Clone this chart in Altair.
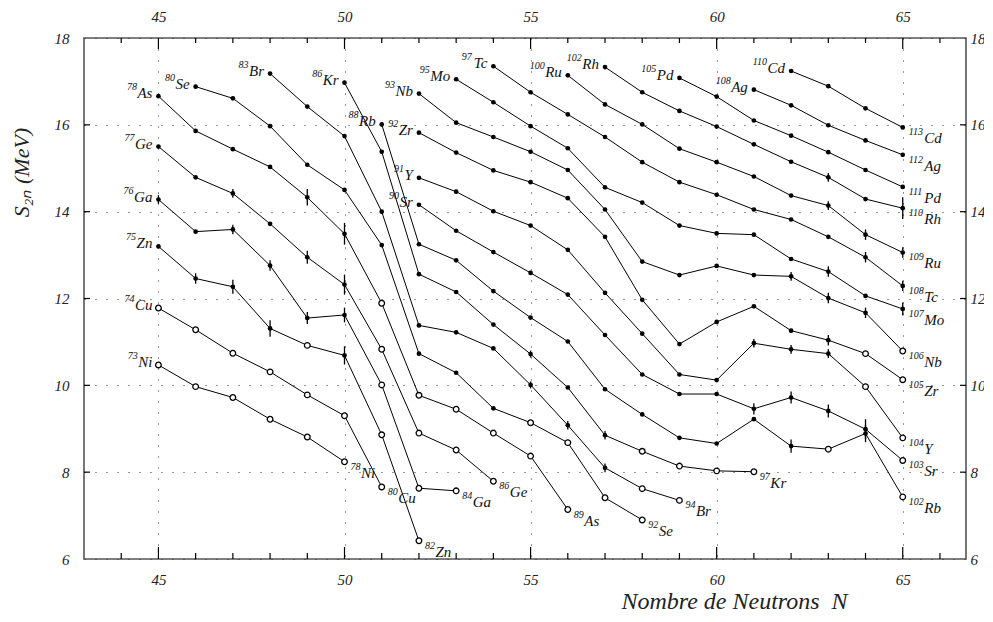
import altair as alt
import pandas as pd

# ---------------- data ----------------
ELEMENTS = ["Ni", "Cu", "Zn", "Ga", "Ge", "As", "Se", "Br", "Kr", "Rb", "Sr",
            "Y", "Zr", "Nb", "Mo", "Tc", "Ru", "Rh", "Pd", "Ag", "Cd"]
Z_NUMBERS = [28, 29, 30, 31, 32, 33, 34, 35, 36, 37, 38,
             39, 40, 41, 42, 43, 44, 45, 46, 47, 48]
N_START = [45, 45, 45, 45, 45, 45, 46, 48, 50, 51, 52,
           52, 52, 52, 53, 54, 56, 57, 59, 61, 62]

S2N_NI = [10.47, 9.97, 9.72, 9.22, 8.81, 8.24]
S2N_CU = [11.78, 11.28, 10.74, 10.31, 9.78, 9.30, 7.66]
S2N_ZN = [13.20, 12.46, 12.27, 11.31, 10.92, 10.69, 8.86, 6.42]
S2N_GA = [14.28, 13.54, 13.59, 12.76, 11.55, 11.62, 10.01, 7.63, 7.57]
S2N_GE = [15.50, 14.79, 14.42, 13.72, 12.95, 12.32, 10.83, 8.90, 8.51, 7.79]
S2N_AS = [16.66, 15.86, 15.44, 15.03, 14.33, 13.49, 11.89, 9.77, 9.45, 8.90, 8.37, 7.14]
S2N_SE = [16.88, 16.61, 15.97, 15.08, 14.50, 13.23, 10.73, 10.29, 9.47, 9.14, 8.68, 7.41, 6.90]
S2N_BR = [17.18, 16.42, 15.74, 14.00, 11.38, 11.22, 10.85, 10.01, 9.08, 8.10, 7.62, 7.35]
S2N_KR = [16.97, 15.38, 12.56, 12.15, 11.40, 10.72, 9.95, 8.85, 8.48, 8.14, 8.03, 8.01]
S2N_RB = [16.01, 13.25, 12.88, 12.17, 11.56, 11.01, 9.91, 9.33, 8.79, 8.66, 9.22, 8.60, 8.53, 8.89, 7.43]
S2N_SR = [14.16, 13.56, 13.07, 12.59, 12.09, 11.16, 10.25, 9.80, 9.80, 9.46, 9.72, 9.41, 8.99, 8.27]
S2N_Y = [14.78, 14.46, 14.01, 13.68, 13.12, 12.13, 11.19, 10.25, 10.12, 10.97, 10.83, 10.73, 9.97, 8.79]
S2N_ZR = [15.82, 15.36, 14.95, 14.68, 14.31, 13.42, 11.97, 10.95, 11.46, 11.82, 11.26, 11.04, 10.73, 10.13]
S2N_NB = [16.72, 16.05, 15.72, 15.38, 14.96, 14.05, 12.85, 12.54, 12.75, 12.54, 12.51, 12.01, 11.67, 10.79]
S2N_MO = [17.05, 16.52, 15.97, 15.46, 14.56, 14.21, 13.68, 13.50, 13.47, 12.91, 12.62, 12.06, 11.76]
S2N_TC = [17.35, 16.75, 16.24, 15.72, 15.14, 14.68, 14.39, 14.05, 13.82, 13.42, 12.95, 12.29]
S2N_RU = [17.14, 16.47, 16.01, 15.45, 15.14, 14.81, 14.37, 14.14, 13.47, 13.06]
S2N_RH = [17.33, 16.75, 16.32, 15.96, 15.55, 15.15, 14.79, 14.29, 14.08]
S2N_PD = [17.08, 16.65, 16.10, 15.75, 15.37, 14.96, 14.57]
S2N_AG = [16.81, 16.45, 15.99, 15.64, 15.31]
S2N_CD = [17.24, 16.89, 16.38, 15.94]

# f = measured (filled dot), o = extrapolated (open circle)
MARKS = ["oooooo", "ooooooo", "ffffofoo", "ffffffooo", "ffffffoooo",
         "ffffffoooooo", "fffffffffoooo", "ffffffffffoo", "ffffffffoooo",
         "ffffffffffffofo", "fffffffffffffo", "ffffffffffffoo", "ffffffffffffoo",
         "fffffffffffffo", "fffffffffffff", "ffffffffffff", "ffffffffff",
         "fffffffff", "fffffff", "fffff", "ffff"]

SERIES = [S2N_NI, S2N_CU, S2N_ZN, S2N_GA, S2N_GE, S2N_AS, S2N_SE, S2N_BR,
          S2N_KR, S2N_RB, S2N_SR, S2N_Y, S2N_ZR, S2N_NB, S2N_MO, S2N_TC,
          S2N_RU, S2N_RH, S2N_PD, S2N_AG, S2N_CD]

# error bars: element, N, half-width (MeV)
ERR_EL = ["Ga", "Ga", "Ga", "Ga", "Ga", "Zn", "Zn", "Zn", "Zn", "Ge", "Ge", "Ge",
          "As", "As", "Br", "Br", "Br", "Kr", "Kr", "Rb", "Rb", "Sr", "Sr", "Sr", "Sr",
          "Y", "Y", "Y", "Zr", "Nb", "Nb", "Nb", "Mo", "Mo", "Tc", "Tc",
          "Ru", "Ru", "Ru", "Rh", "Rh"]
ERR_N = [45, 47, 48, 49, 50, 46, 47, 48, 50, 47, 49, 50,
         49, 50, 55, 56, 57, 55, 57, 62, 64, 61, 62, 63, 64,
         61, 62, 63, 63, 62, 63, 64, 63, 65, 64, 65,
         63, 64, 65, 63, 65]
ERR_H = [0.10, 0.11, 0.12, 0.14, 0.17, 0.12, 0.16, 0.19, 0.21, 0.10, 0.15, 0.23,
         0.19, 0.25, 0.08, 0.10, 0.10, 0.08, 0.10, 0.15, 0.20, 0.13, 0.14, 0.15, 0.23,
         0.10, 0.10, 0.10, 0.12, 0.10, 0.12, 0.12, 0.12, 0.15, 0.12, 0.12,
         0.10, 0.12, 0.12, 0.10, 0.25]

X_MAJOR = [45, 50, 55, 60, 65]
X_MINOR = [44, 46, 47, 48, 49, 51, 52, 53, 54, 56, 57, 58, 59, 61, 62, 63, 64, 66]
Y_MAJOR = [6, 8, 10, 12, 14, 16, 18]
Y_INNER = [8, 10, 12, 14, 16]

X_TITLE = "Nombre de Neutrons\u00a0\u00a0N"
Y_TITLE = "S\u2082\u2099 (MeV)"

# ---------------- layout constants ----------------
W, H = 882, 521
XMIN, XMAX = 43, 66.7
PPU = W / (XMAX - XMIN)          # pixels per neutron
FONT = "Liberation Serif"
EL_SIZE, NUM_SIZE = 15, 10
# Times-italic advance widths (em) for the label glyphs
GLYPH_W = {"A": .611, "B": .611, "C": .667, "G": .722, "K": .667, "M": .833,
           "N": .667, "P": .611, "R": .611, "S": .5, "T": .556, "Y": .556,
           "Z": .556, "a": .5, "b": .5, "c": .444, "d": .5, "e": .444, "g": .5,
           "h": .5, "i": .278, "n": .5, "o": .5, "r": .389, "s": .389, "u": .5}

def text_w(s, size):
    return sum(GLYPH_W.get(c, .5) for c in s) * size

# ---------------- tables ----------------
rows, starts, ends = [], [], []
for el, z, n0, vals, mk in zip(ELEMENTS, Z_NUMBERS, N_START, SERIES, MARKS):
    for i, v in enumerate(vals):
        rows.append({"chain": el, "N": n0 + i, "S": v, "kind": mk[i]})
    a0 = str(z + n0)
    starts.append({"S": vals[0], "el": el, "num": a0,
                   "xe": n0 - 6 / PPU,
                   "xn": n0 - (6 + text_w(el, EL_SIZE) + 0.5) / PPU})
    nl = n0 + len(vals) - 1
    a1 = str(z + nl)
    ends.append({"S": vals[-1], "el": el, "num": a1,
                 "xn": nl + 6 / PPU,
                 "xe": nl + (6 + len(a1) * 0.5 * NUM_SIZE + 0.5) / PPU})
df = pd.DataFrame(rows)
df_start = pd.DataFrame(starts)
df_end = pd.DataFrame(ends)

lookup = {(r["chain"], r["N"]): r["S"] for r in rows}
df_err = pd.DataFrame({"N": ERR_N,
                       "lo": [lookup[(e, n)] - h for e, n, h in zip(ERR_EL, ERR_N, ERR_H)],
                       "hi": [lookup[(e, n)] + h for e, n, h in zip(ERR_EL, ERR_N, ERR_H)]})

xs = alt.Scale(domain=[XMIN, XMAX], nice=False, zero=False)
ys = alt.Scale(domain=[6, 18], nice=False, zero=False)

axis_common = dict(labelFont=FONT, labelFontStyle="italic", labelFontSize=15,
                   labelColor="#222", ticks=False, domain=False, labelFlush=False)

# axes with grid (bottom / left)
ax1 = alt.Chart(df).mark_point(opacity=0).encode(
    x=alt.X("N:Q", scale=xs, axis=alt.Axis(
        orient="bottom", values=X_MAJOR, grid=True, gridDash=[1, 10], gridColor="#333",
        gridWidth=1, labelPadding=13, title=X_TITLE, titleFont=FONT,
        titleFontStyle="italic", titleFontWeight="normal", titleFontSize=24,
        titleColor="#222", titleX=650, titleY=49, titleAlign="center",
        titleBaseline="alphabetic", **axis_common)),
    y=alt.Y("S:Q", scale=ys, axis=alt.Axis(
        orient="left", values=Y_MAJOR, grid=True, gridDash=[1, 10], gridColor="#333",
        gridWidth=1, labelPadding=15, title=Y_TITLE, titleFont=FONT,
        titleFontStyle="italic", titleFontWeight="normal", titleFontSize=22,
        titleColor="#222", titleAngle=270, titleX=-63, titleY=134,
        titleAlign="center", titleBaseline="middle", **axis_common)),
)
# mirrored axes (top / right)
ax2 = alt.Chart(df).mark_point(opacity=0).encode(
    x=alt.X("N:Q", scale=xs, axis=alt.Axis(orient="top", values=X_MAJOR, grid=False,
                                          labelPadding=14, title=None, **axis_common)),
    y=alt.Y("S:Q", scale=ys, axis=alt.Axis(orient="right", values=Y_MAJOR, grid=False,
                                          labelPadding=4, title=None, **axis_common)),
)

X = alt.X("N:Q", scale=xs, axis=None)
Y = alt.Y("S:Q", scale=ys, axis=None)

lines = alt.Chart(df).mark_line(color="black", strokeWidth=1).encode(
    x=X, y=Y, detail="chain:N", order="N:Q")
errs = alt.Chart(df_err).mark_rule(color="black", strokeWidth=1.3).encode(
    x=X, y=alt.Y("lo:Q", scale=ys, axis=None), y2="hi:Q")
filled = alt.Chart(df).transform_filter(alt.datum.kind == "f").mark_circle(
    color="black", size=22, opacity=1).encode(x=X, y=Y)
opened = alt.Chart(df).transform_filter(alt.datum.kind == "o").mark_point(
    shape="circle", filled=True, fill="white", stroke="black", strokeWidth=1.3,
    size=32, opacity=1).encode(x=X, y=Y)

def label_layer(data, field, align, dy, size):
    return alt.Chart(data).mark_text(
        align=align, baseline="middle", dy=dy, font=FONT, fontStyle="italic",
        fontSize=size, color="#111").encode(
        x=alt.X("%s:Q" % ("xe" if field == "el" else "xn"), scale=xs, axis=None),
        y=Y, text="%s:N" % field)

labels = [label_layer(df_start, "el", "right", -3, EL_SIZE),
          label_layer(df_start, "num", "right", -9, NUM_SIZE),
          label_layer(df_end, "el", "left", 11, EL_SIZE),
          label_layer(df_end, "num", "left", 5, NUM_SIZE)]

def xticks(vals, y0, y1):
    return alt.Chart(pd.DataFrame({"N": vals})).mark_rule(
        color="black", strokeWidth=1.2).encode(
        x=X, y=alt.value(y0), y2=alt.value(y1))

def yticks(vals, x0, x1):
    return alt.Chart(pd.DataFrame({"S": vals})).mark_rule(
        color="black", strokeWidth=1.2).encode(
        y=Y, x=alt.value(x0), x2=alt.value(x1))

ticks = [xticks(X_MAJOR, H, H - 12), xticks(X_MINOR, H, H - 6),
         xticks(X_MAJOR, 0, 11), xticks(X_MINOR, 0, 5),
         yticks(Y_INNER, 0, 6), yticks(Y_INNER, W, W - 6)]

chart = alt.layer(ax1, ax2, *ticks, lines, errs, filled, opened, *labels
).resolve_axis(x="independent", y="independent").properties(
    width=W, height=H,
    autosize=alt.AutoSizeParams(type="none"),
    padding={"left": 76, "top": 30, "right": 18, "bottom": 55},
    background="white",
).configure_view(stroke="#555", strokeWidth=1.6)

chart.save("out.html", embed_options={"renderer": "svg", "actions": False})
